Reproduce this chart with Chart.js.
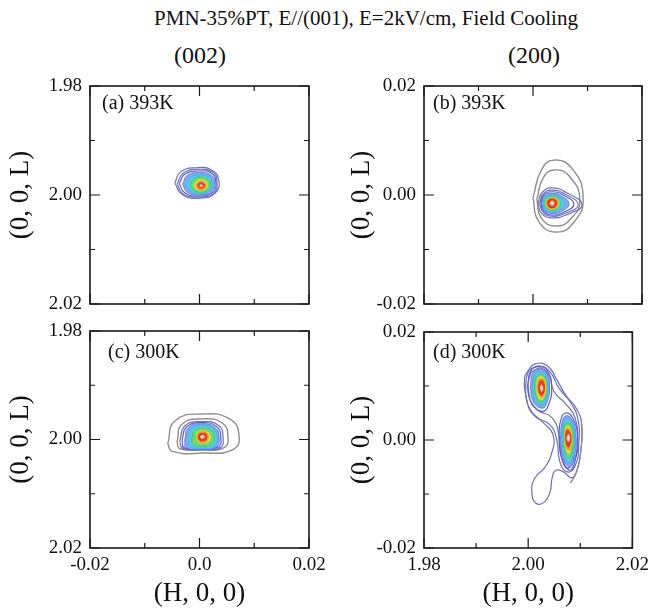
<!DOCTYPE html>
<html>
<head>
<meta charset="utf-8">
<script src="https://cdn.jsdelivr.net/npm/chart.js@4.4.1/dist/chart.umd.min.js"></script>
<style>
  body { margin: 0; background: #fff; width: 655px; height: 616px; position: relative; overflow: hidden; font-family: "Liberation Serif", serif; color: #111; }
  canvas { position: absolute; left: 0; top: 0; }
  .txt { position: absolute; white-space: nowrap; transform: translateX(-50%); }
</style>
</head>
<body>
<div class="txt" style="left:366px; top:6px; font-size:21px;">PMN-35%PT, E//(001), E=2kV/cm, Field Cooling</div>
<div class="txt" style="left:200px; top:42px; font-size:24px;">(002)</div>
<div class="txt" style="left:534px; top:42px; font-size:24px;">(200)</div>
<canvas id="chartA" width="655" height="616"></canvas>
<canvas id="chartB" width="655" height="616"></canvas>
<canvas id="chartC" width="655" height="616"></canvas>
<canvas id="chartD" width="655" height="616"></canvas>
<script>
// Achsen-Ticks (Werte und Beschriftungen)
const ticksH002 = [-0.02, -0.01, 0.0, 0.01, 0.02];
const labelsH002 = ['-0.02', '', '0.0', '', '0.02'];
const ticksL002 = [1.98, 1.99, 2.00, 2.01, 2.02];
const labelsL002 = ['1.98', '', '2.00', '', '2.02'];
const ticksH200 = [1.98, 1.99, 2.00, 2.01, 2.02];
const labelsH200 = ['1.98', '', '2.00', '', '2.02'];
const ticksL200 = [-0.02, -0.01, 0.00, 0.01, 0.02];
const labelsL200 = ['-0.02', '', '0.00', '', '0.02'];

const panelNames = ['(a) 393K', '(b) 393K', '(c) 300K', '(d) 300K'];

// Konturlinien, von außen nach innen, Punkte [H, L]
const contourA = [
  [[-0.0045,1.9978],[-0.0035,1.9958],[-0.0008,1.9950],[0.0022,1.9954],[0.0035,1.9972],[0.0030,1.9995],[0.0002,2.0006],[-0.0032,1.9999]],
  [[-0.0041,1.9980],[-0.0030,1.9960],[-0.0004,1.9953],[0.0024,1.9958],[0.0032,1.9976],[0.0026,1.9997],[0.0000,2.0004],[-0.0030,1.9998]],
  [[-0.0037,1.9979],[-0.0027,1.9962],[-0.0002,1.9956],[0.0022,1.9960],[0.0030,1.9977],[0.0024,1.9995],[0.0000,2.0002],[-0.0027,1.9996]],
  [[-0.0031,1.9980],[-0.0022,1.9964],[0.0000,1.9959],[0.0020,1.9963],[0.0028,1.9978],[0.0021,1.9994],[0.0001,2.0000],[-0.0022,1.9995]],
  [[-0.0024,1.9981],[-0.0016,1.9968],[0.0001,1.9963],[0.0017,1.9967],[0.0024,1.9980],[0.0018,1.9993],[0.0001,1.9998],[-0.0017,1.9993]],
  [[-0.0017,1.9982],[-0.0011,1.9971],[0.0002,1.9967],[0.0014,1.9970],[0.0020,1.9981],[0.0015,1.9991],[0.0002,1.9995],[-0.0011,1.9991]],
  [[-0.0010,1.9983],[-0.0006,1.9975],[0.0003,1.9972],[0.0011,1.9975],[0.0015,1.9982],[0.0011,1.9989],[0.0003,1.9992],[-0.0006,1.9989]],
  [[-0.0006,1.9983],[-0.0003,1.9977],[0.0003,1.9975],[0.0009,1.9977],[0.0012,1.9983],[0.0009,1.9988],[0.0003,1.9990],[-0.0003,1.9988]],
  [[-0.0003,1.9983],[-0.0001,1.9979],[0.0003,1.9978],[0.0007,1.9979],[0.0009,1.9983],[0.0007,1.9986],[0.0003,1.9987],[-0.0001,1.9986]],
  [[0.0000,1.9983],[0.0003,1.9981],[0.0006,1.9983],[0.0003,1.9985]]
];
const levelsA = ['purple','purple','blue','lblue','cyan','green','yellow','orange','red','white'];

const contourB = [
  [[2.0000,-0.0005],[2.0015,0.0045],[2.0038,0.0064],[2.0072,0.0048],[2.0092,-0.0005],[2.0075,-0.0050],[2.0042,-0.0068],[2.0010,-0.0048]],
  [[2.0007,-0.0008],[2.0019,0.0032],[2.0040,0.0046],[2.0068,0.0033],[2.0086,-0.0010],[2.0070,-0.0043],[2.0042,-0.0057],[2.0015,-0.0042]],
  [[2.0009,-0.0015],[2.0017,0.0005],[2.0035,0.0013],[2.0062,0.0004],[2.0090,-0.0018],[2.0062,-0.0036],[2.0035,-0.0042],[2.0016,-0.0034]],
  [[2.0012,-0.0015],[2.0019,0.0002],[2.0035,0.0009],[2.0058,0.0002],[2.0083,-0.0018],[2.0058,-0.0034],[2.0035,-0.0039],[2.0019,-0.0032]],
  [[2.0014,-0.0015],[2.0020,0.0000],[2.0035,0.0006],[2.0055,0.0000],[2.0075,-0.0017],[2.0055,-0.0032],[2.0035,-0.0037],[2.0020,-0.0030]],
  [[2.0016,-0.0015],[2.0021,-0.0002],[2.0035,0.0003],[2.0052,-0.0002],[2.0066,-0.0016],[2.0052,-0.0030],[2.0035,-0.0034],[2.0021,-0.0028]],
  [[2.0018,-0.0015],[2.0023,-0.0004],[2.0035,0.0000],[2.0049,-0.0004],[2.0058,-0.0015],[2.0049,-0.0027],[2.0035,-0.0031],[2.0023,-0.0026]],
  [[2.0021,-0.0015],[2.0025,-0.0006],[2.0035,-0.0003],[2.0046,-0.0006],[2.0051,-0.0015],[2.0046,-0.0024],[2.0035,-0.0028],[2.0025,-0.0024]],
  [[2.0023,-0.0015],[2.0027,-0.0007],[2.0035,-0.0005],[2.0043,-0.0007],[2.0047,-0.0015],[2.0043,-0.0023],[2.0035,-0.0026],[2.0027,-0.0023]],
  [[2.0025,-0.0015],[2.0028,-0.0008],[2.0035,-0.0006],[2.0042,-0.0008],[2.0045,-0.0015],[2.0042,-0.0022],[2.0035,-0.0025],[2.0028,-0.0022]],
  [[2.0027,-0.0015],[2.0029,-0.0009],[2.0035,-0.0008],[2.0041,-0.0009],[2.0043,-0.0015],[2.0041,-0.0021],[2.0035,-0.0023],[2.0029,-0.0021]],
  [[2.0031,-0.0015],[2.0035,-0.0011],[2.0039,-0.0015],[2.0035,-0.0019]]
];
const levelsB = ['gray','gray','purple','purple','blue','lblue','cyan','green','yellow','orange','red','white'];

const contourC = [
  [[-0.0058,2.0008],[-0.0045,1.9966],[0.0005,1.9953],[0.0055,1.9962],[0.0072,1.9990],[0.0062,2.0018],[0.0005,2.0025],[-0.0050,2.0022]],
  [[-0.0041,2.0005],[-0.0032,1.9972],[0.0005,1.9962],[0.0042,1.9970],[0.0052,1.9995],[0.0045,2.0015],[0.0005,2.0019],[-0.0036,2.0017]],
  [[-0.0036,2.0003],[-0.0027,1.9975],[0.0004,1.9967],[0.0035,1.9974],[0.0043,1.9996],[0.0038,2.0015],[0.0004,2.0019],[-0.0031,2.0016]],
  [[-0.0032,2.0002],[-0.0024,1.9977],[0.0004,1.9969],[0.0031,1.9976],[0.0039,1.9997],[0.0034,2.0014],[0.0004,2.0018],[-0.0028,2.0015]],
  [[-0.0027,2.0001],[-0.0020,1.9978],[0.0004,1.9971],[0.0028,1.9978],[0.0036,1.9998],[0.0030,2.0014],[0.0004,2.0018],[-0.0024,2.0015]],
  [[-0.0021,2.0000],[-0.0015,1.9980],[0.0005,1.9974],[0.0025,1.9980],[0.0032,1.9998],[0.0026,2.0013],[0.0005,2.0016],[-0.0018,2.0013]],
  [[-0.0014,1.9999],[-0.0009,1.9983],[0.0005,1.9979],[0.0021,1.9983],[0.0027,1.9998],[0.0021,2.0010],[0.0005,2.0013],[-0.0011,2.0010]],
  [[-0.0006,1.9996],[-0.0003,1.9987],[0.0006,1.9984],[0.0016,1.9987],[0.0020,1.9996],[0.0016,2.0004],[0.0006,2.0007],[-0.0003,2.0004]],
  [[-0.0004,1.9995],[-0.0001,1.9988],[0.0006,1.9986],[0.0013,1.9988],[0.0016,1.9995],[0.0013,2.0003],[0.0006,2.0005],[-0.0001,2.0003]],
  [[-0.0002,1.9995],[0.0000,1.9990],[0.0005,1.9989],[0.0011,1.9990],[0.0013,1.9995],[0.0011,2.0001],[0.0005,2.0002],[0.0000,2.0001]],
  [[0.0001,1.9995],[0.0005,1.9992],[0.0009,1.9995],[0.0005,1.9998]]
];
const levelsC = ['gray','gray','purple','blue','lblue','cyan','green','yellow','orange','red','white'];

const contourD = [
  [[1.9998,0.0126],[2.0013,0.0141],[2.0037,0.0137],[2.0053,0.0115],[2.0072,0.0083],[2.0092,0.0059],[2.0103,0.0028],[2.0101,-0.0019],
   [2.0094,-0.0056],[2.0083,-0.0070],[2.0068,-0.0059],[2.0053,-0.0056],[2.0046,-0.0070],[2.0042,-0.0096],[2.0031,-0.0115],[2.0015,-0.0117],
   [2.0007,-0.0096],[2.0013,-0.0070],[2.0031,-0.0052],[2.0044,-0.0028],[2.0048,0.0009],[2.0028,0.0033],[2.0004,0.0056],[1.9994,0.0089],[1.9993,0.0115]],
  [[2.0002,0.0130],[2.0022,0.0137],[2.0042,0.0126],[2.0059,0.0096],[2.0081,0.0070],[2.0095,0.0041],[2.0097,-0.0009],[2.0090,-0.0048],
   [2.0075,-0.0059],[2.0061,-0.0041],[2.0055,0.0000],[2.0042,0.0028],[2.0013,0.0044],[1.9998,0.0070],[1.9996,0.0111]],
  [[2.0006,0.0126],[2.0024,0.0133],[2.0040,0.0119],[2.0050,0.0089],[2.0072,0.0067],[2.0090,0.0041],[2.0094,-0.0009],[2.0086,-0.0041],
   [2.0075,-0.0052],[2.0064,-0.0033],[2.0059,0.0009],[2.0046,0.0041],[2.0017,0.0056],[2.0002,0.0078],[2.0000,0.0107]],
  [[2.0102,0.0035],[2.0103,0.0000],[2.0098,-0.0040],[2.0090,-0.0065],[2.0081,-0.0080]],
  // oberer Peak
  [[1.9999,0.0100],[2.0005,0.0128],[2.0020,0.0136],[2.0037,0.0128],[2.0045,0.0098],[2.0040,0.0068],[2.0028,0.0053],[2.0007,0.0068]],
  [[2.0004,0.0099],[2.0009,0.0124],[2.0021,0.0131],[2.0035,0.0124],[2.0041,0.0097],[2.0036,0.0070],[2.0027,0.0059],[2.0010,0.0071]],
  [[2.0008,0.0098],[2.0012,0.0120],[2.0022,0.0126],[2.0033,0.0120],[2.0038,0.0097],[2.0034,0.0074],[2.0026,0.0065],[2.0013,0.0074]],
  [[2.0012,0.0097],[2.0015,0.0116],[2.0023,0.0121],[2.0032,0.0116],[2.0036,0.0096],[2.0032,0.0078],[2.0026,0.0070],[2.0016,0.0078]],
  [[2.0016,0.0097],[2.0018,0.0113],[2.0024,0.0118],[2.0031,0.0113],[2.0034,0.0096],[2.0031,0.0081],[2.0026,0.0075],[2.0019,0.0081]],
  [[2.0018,0.0097],[2.0020,0.0110],[2.0025,0.0114],[2.0030,0.0110],[2.0032,0.0096],[2.0030,0.0084],[2.0026,0.0079],[2.0021,0.0084]],
  [[2.0020,0.0097],[2.0022,0.0107],[2.0025,0.0110],[2.0029,0.0107],[2.0031,0.0096],[2.0029,0.0087],[2.0026,0.0083],[2.0022,0.0087]],
  [[2.0023,0.0096],[2.0025,0.0102],[2.0028,0.0096],[2.0026,0.0090]],
  // unterer Peak
  [[2.0059,0.0004],[2.0062,0.0035],[2.0072,0.0050],[2.0086,0.0040],[2.0095,0.0004],[2.0091,-0.0035],[2.0080,-0.0056],[2.0064,-0.0032]],
  [[2.0062,0.0004],[2.0065,0.0032],[2.0073,0.0045],[2.0085,0.0036],[2.0092,0.0004],[2.0088,-0.0032],[2.0080,-0.0050],[2.0066,-0.0030]],
  [[2.0065,0.0004],[2.0067,0.0028],[2.0074,0.0039],[2.0083,0.0031],[2.0089,0.0004],[2.0086,-0.0028],[2.0079,-0.0043],[2.0068,-0.0026]],
  [[2.0068,0.0004],[2.0069,0.0024],[2.0075,0.0032],[2.0082,0.0026],[2.0086,0.0004],[2.0084,-0.0022],[2.0078,-0.0034],[2.0070,-0.0020]],
  [[2.0070,0.0004],[2.0071,0.0020],[2.0076,0.0026],[2.0081,0.0021],[2.0084,0.0004],[2.0082,-0.0016],[2.0078,-0.0025],[2.0072,-0.0015]],
  [[2.0071,0.0004],[2.0072,0.0017],[2.0076,0.0022],[2.0080,0.0017],[2.0083,0.0004],[2.0081,-0.0012],[2.0078,-0.0019],[2.0073,-0.0011]],
  [[2.0072,0.0004],[2.0073,0.0014],[2.0076,0.0018],[2.0079,0.0014],[2.0082,0.0004],[2.0080,-0.0008],[2.0077,-0.0013],[2.0074,-0.0008]],
  [[2.0074,0.0004],[2.0077,0.0010],[2.0080,0.0004],[2.0077,-0.0003]]
];
const levelsD = ['purple','purple','purple','grayOpen',
  'blue','lblue','cyan','green','yellow','orange','red','white',
  'blue','lblue','cyan','green','yellow','orange','red','white'];

// Farben der Konturstufen
const levelStyle = {
  gray:     { line: '#8e8e8e', width: 1.4 },
  grayOpen: { line: '#8e8e8e', width: 1.4, open: true },
  purple:   { line: '#7070b6', width: 1.2 },
  blue:     { line: '#5a5ec8', width: 1.2 },
  lblue:    { line: '#5c7ee0', fill: '#88a8ee', width: 1 },
  cyan:     { line: '#3cb8e6', fill: '#56caee', width: 1 },
  green:    { line: '#48c860', fill: '#6cd878', width: 1 },
  yellow:   { line: '#d0d43a', fill: '#e6e452', width: 1 },
  orange:   { line: '#ec8a2a', fill: '#f29a3a', width: 1 },
  red:      { line: '#d43a1a', fill: '#dc4626', width: 1 },
  white:    { line: '#e8b0a8', fill: '#f6dcd6', width: 1 }
};

const FONT = '"Liberation Serif", "Times New Roman", serif';

// Rahmen, nach innen zeigende Ticks und Panel-Beschriftung
const framePlugin = {
  id: 'frame',
  afterDatasetsDraw(chart, args, opts) {
    const { ctx, chartArea: a, scales: { x, y } } = chart;
    ctx.save();
    ctx.strokeStyle = '#1a1a1a';
    ctx.lineWidth = 1.2;
    ctx.beginPath();
    opts.xTicks.forEach((v, i) => {
      const px = x.getPixelForValue(v);
      const len = opts.xLabels[i] ? 10 : 5;
      ctx.moveTo(px, a.bottom); ctx.lineTo(px, a.bottom - len);
      ctx.moveTo(px, a.top); ctx.lineTo(px, a.top + len);
    });
    opts.yTicks.forEach((v, i) => {
      const py = y.getPixelForValue(v);
      const len = opts.yLabels[i] ? 10 : 5;
      ctx.moveTo(a.left, py); ctx.lineTo(a.left + len, py);
      ctx.moveTo(a.right, py); ctx.lineTo(a.right - len, py);
    });
    ctx.stroke();
    ctx.lineWidth = 1.6;
    ctx.strokeRect(a.left, a.top, a.right - a.left, a.bottom - a.top);
    ctx.fillStyle = '#111';
    ctx.font = '20px ' + FONT;
    ctx.textBaseline = 'middle';
    ctx.fillText(opts.name, a.left + opts.nameDx, a.top + opts.nameDy);
    ctx.restore();
  }
};

function buildDatasets(loops, levels) {
  return loops.map((pts, i) => {
    const st = levelStyle[levels[i]];
    const closed = st.open ? pts : pts.concat([pts[0]]);
    return {
      data: closed.map(p => ({ x: p[0], y: p[1] })),
      showLine: true,
      pointRadius: 0,
      tension: 0.5,
      borderColor: st.line,
      borderWidth: st.width,
      backgroundColor: st.fill || 'rgba(0,0,0,0)',
      fill: st.fill ? 'shape' : false,
      order: loops.length - i
    };
  });
}

function makePanel(canvasId, p) {
  return new Chart(document.getElementById(canvasId), {
    type: 'scatter',
    data: { datasets: buildDatasets(p.loops, p.levels) },
    plugins: [framePlugin],
    options: {
      responsive: false,
      animation: false,
      devicePixelRatio: 1,
      layout: { padding: p.padding },
      scales: {
        x: {
          type: 'linear', min: p.xTicks[0], max: p.xTicks[p.xTicks.length - 1],
          display: p.showX,
          afterBuildTicks: s => { s.ticks = p.xTicks.map(v => ({ value: v })); },
          afterFit: s => { s.height = p.showX ? 62 : 0; },
          ticks: { autoSkip: false, maxRotation: 0, padding: 6, color: '#111',
                   font: { family: FONT, size: 19 }, callback: (v, i) => p.xLabels[i] },
          grid: { display: false, drawTicks: false },
          border: { display: false },
          title: { display: true, text: '(H, 0, 0)', color: '#111', font: { family: FONT, size: 27 }, padding: { top: 2, bottom: 0 } }
        },
        y: {
          type: 'linear', min: p.yTicks[0], max: p.yTicks[p.yTicks.length - 1],
          reverse: p.yReverse,
          afterBuildTicks: s => { s.ticks = p.yTicks.map(v => ({ value: v })); },
          afterFit: s => { s.width = 86; },
          ticks: { autoSkip: false, padding: 8, color: '#111',
                   font: { family: FONT, size: 19 }, callback: (v, i) => p.yLabels[i] },
          grid: { display: false, drawTicks: false },
          border: { display: false },
          title: { display: true, text: '(0, 0, L)', color: '#111', font: { family: FONT, size: 27 }, padding: { top: p.yTitlePad, bottom: 0 } }
        }
      },
      plugins: {
        legend: { display: false },
        tooltip: { enabled: false },
        frame: { xTicks: p.xTicks, xLabels: p.xLabels, yTicks: p.yTicks, yLabels: p.yLabels,
                 name: p.name, nameDx: p.nameDx, nameDy: p.nameDy }
      }
    }
  });
}

makePanel('chartA', {
  loops: contourA, levels: levelsA, name: panelNames[0], nameDx: 12, nameDy: 18,
  xTicks: ticksH002, xLabels: labelsH002, yTicks: ticksL002, yLabels: labelsL002,
  yReverse: true, showX: false, yTitlePad: 1,
  padding: { left: 4, right: 346, top: 86, bottom: 312 }
});
makePanel('chartB', {
  loops: contourB, levels: levelsB, name: panelNames[1], nameDx: 9, nameDy: 18,
  xTicks: ticksH200, xLabels: labelsH200, yTicks: ticksL200, yLabels: labelsL200,
  yReverse: false, showX: false, yTitlePad: 8,
  padding: { left: 338, right: 13, top: 86, bottom: 312 }
});
makePanel('chartC', {
  loops: contourC, levels: levelsC, name: panelNames[2], nameDx: 18, nameDy: 22,
  xTicks: ticksH002, xLabels: labelsH002, yTicks: ticksL002, yLabels: labelsL002,
  yReverse: true, showX: true, yTitlePad: 1,
  padding: { left: 4, right: 346, top: 331, bottom: 6 }
});
makePanel('chartD', {
  loops: contourD, levels: levelsD, name: panelNames[3], nameDx: 9, nameDy: 21,
  xTicks: ticksH200, xLabels: labelsH200, yTicks: ticksL200, yLabels: labelsL200,
  yReverse: false, showX: true, yTitlePad: 8,
  padding: { left: 338, right: 13, top: 332, bottom: 6 }
});
</script>
</body>
</html>
